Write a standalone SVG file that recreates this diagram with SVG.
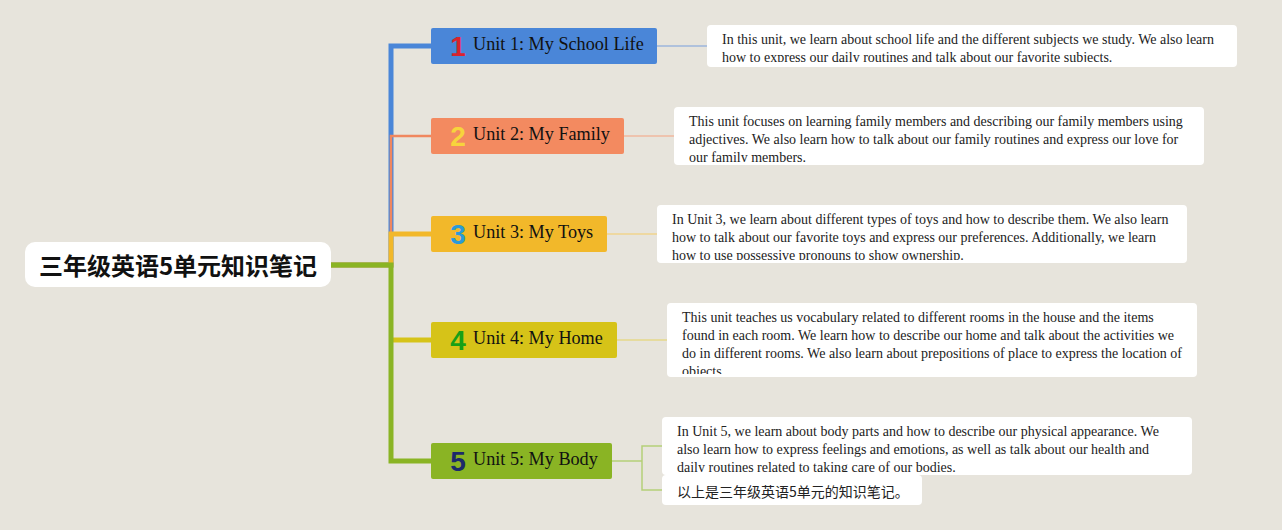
<svg xmlns="http://www.w3.org/2000/svg" width="1282" height="530" viewBox="0 0 1282 530">
<defs>
<style>
.bg{fill:#e7e4dc}
.desc{fill:#ffffff}
.dt{font-family:"Liberation Serif","Times New Roman",serif;font-size:14px;fill:#222}
.ut{font-family:"Liberation Serif","Times New Roman",serif;font-size:18.2px;fill:#111}
.num{font-family:"Liberation Sans","DejaVu Sans",sans-serif;font-weight:900;font-size:28px}
.root{font-family:"Noto Sans CJK SC","Noto Sans",sans-serif;font-weight:700;font-size:24px;fill:#111}
.cn{font-family:"Noto Sans CJK SC","Noto Sans",sans-serif;font-size:14px;fill:#222}
.br{fill:none;stroke-linejoin:miter}
.sub{fill:none;stroke-width:1.5}
</style>
<clipPath id="c1"><rect x="707" y="25" width="530" height="37"/></clipPath>
<clipPath id="c2"><rect x="674" y="107" width="530" height="55"/></clipPath>
<clipPath id="c3"><rect x="657" y="205" width="530" height="55"/></clipPath>
<clipPath id="c4"><rect x="667" y="303" width="530" height="71"/></clipPath>
<clipPath id="c5"><rect x="662" y="417" width="530" height="55"/></clipPath>
</defs>
<rect class="bg" x="0" y="0" width="1282" height="530"/>

<g id="connectors">
  <path class="br" d="M330 265 H391 V46 H431" stroke="#4a86d8" stroke-width="5"/>
  <path class="br" d="M330 265 H391 V136 H431" stroke="#f0875f" stroke-width="2.5"/>
  <path class="br" d="M330 265 H391 V234 H431" stroke="#f2b82a" stroke-width="5"/>
  <path class="br" d="M391 340 H431" stroke="#d6c318" stroke-width="5"/>
  <path class="br" d="M330 265 H391 V461 H431" stroke="#8ab424" stroke-width="5"/>
  <path class="sub" d="M657 46 H707" stroke="#9db6dc"/>
  <path class="sub" d="M624 136 H674" stroke="#f0b89f"/>
  <path class="sub" d="M607 234 H657" stroke="#f0d58e"/>
  <path class="sub" d="M617 340 H667" stroke="#e6d98a"/>
  <path class="sub" d="M612 461 H642 M662 446 H642 V490 H662" stroke="#b5cf78"/>
</g>

<g id="root">
  <rect x="25" y="242" width="306" height="45" rx="10" fill="#fff"/>
  <text class="root" x="178" y="275" text-anchor="middle">三年级英语5单元知识笔记</text>
</g>

<g id="unit1">
  <rect x="431" y="28" width="226" height="36" rx="2" fill="#4a86d8"/>
  <text class="num" x="458" y="56" fill="#d9232e" text-anchor="middle">1</text>
  <text class="ut" x="473" y="50">Unit 1: My School Life</text>
</g>
<g id="unit2">
  <rect x="431" y="118" width="193" height="36" rx="2" fill="#f38a60"/>
  <text class="num" x="458" y="146" fill="#f7d43c" text-anchor="middle">2</text>
  <text class="ut" x="473" y="140">Unit 2: My Family</text>
</g>
<g id="unit3">
  <rect x="431" y="216" width="176" height="36" rx="2" fill="#f2b82a"/>
  <text class="num" x="458" y="244" fill="#2b9ad8" text-anchor="middle">3</text>
  <text class="ut" x="473" y="238">Unit 3: My Toys</text>
</g>
<g id="unit4">
  <rect x="431" y="322" width="186" height="36" rx="2" fill="#d6c318"/>
  <text class="num" x="458" y="350" fill="#17a017" text-anchor="middle">4</text>
  <text class="ut" x="473" y="344">Unit 4: My Home</text>
</g>
<g id="unit5">
  <rect x="431" y="443" width="181" height="36" rx="2" fill="#8ab424"/>
  <text class="num" x="458" y="471" fill="#1c2a6b" text-anchor="middle">5</text>
  <text class="ut" x="473" y="465">Unit 5: My Body</text>
</g>

<g id="desc1">
  <rect class="desc" x="707" y="25" width="530" height="42" rx="4"/>
  <g clip-path="url(#c1)">
    <text class="dt" x="722" y="44">In this unit, we learn about school life and the different subjects we study. We also learn</text>
    <text class="dt" x="722" y="62">how to express our daily routines and talk about our favorite subjects.</text>
  </g>
</g>
<g id="desc2">
  <rect class="desc" x="674" y="107" width="530" height="58" rx="4"/>
  <g clip-path="url(#c2)">
    <text class="dt" x="689" y="126">This unit focuses on learning family members and describing our family members using</text>
    <text class="dt" x="689" y="144">adjectives. We also learn how to talk about our family routines and express our love for</text>
    <text class="dt" x="689" y="162">our family members.</text>
  </g>
</g>
<g id="desc3">
  <rect class="desc" x="657" y="205" width="530" height="58" rx="4"/>
  <g clip-path="url(#c3)">
    <text class="dt" x="672" y="224">In Unit 3, we learn about different types of toys and how to describe them. We also learn</text>
    <text class="dt" x="672" y="242">how to talk about our favorite toys and express our preferences. Additionally, we learn</text>
    <text class="dt" x="672" y="260">how to use possessive pronouns to show ownership.</text>
  </g>
</g>
<g id="desc4">
  <rect class="desc" x="667" y="303" width="530" height="74" rx="4"/>
  <g clip-path="url(#c4)">
    <text class="dt" x="682" y="322">This unit teaches us vocabulary related to different rooms in the house and the items</text>
    <text class="dt" x="682" y="340">found in each room. We learn how to describe our home and talk about the activities we</text>
    <text class="dt" x="682" y="358">do in different rooms. We also learn about prepositions of place to express the location of</text>
    <text class="dt" x="682" y="376">objects.</text>
  </g>
</g>
<g id="desc5">
  <rect class="desc" x="662" y="417" width="530" height="58" rx="4"/>
  <g clip-path="url(#c5)">
    <text class="dt" x="677" y="436">In Unit 5, we learn about body parts and how to describe our physical appearance. We</text>
    <text class="dt" x="677" y="454">also learn how to express feelings and emotions, as well as talk about our health and</text>
    <text class="dt" x="677" y="472">daily routines related to taking care of our bodies.</text>
  </g>
</g>
<g id="desc6">
  <rect class="desc" x="662" y="475" width="260" height="30" rx="4"/>
  <text class="cn" x="677" y="497">以上是三年级英语5单元的知识笔记。</text>
</g>
</svg>
